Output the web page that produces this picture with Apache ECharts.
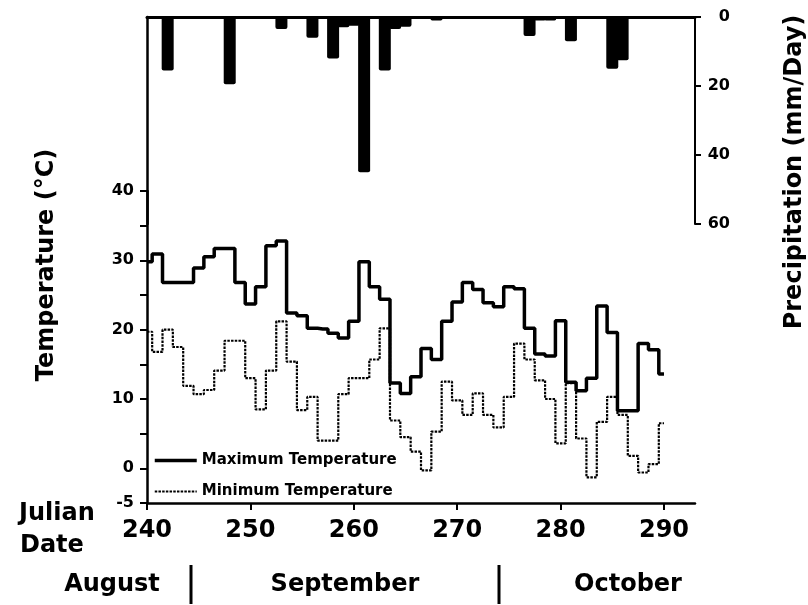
<!DOCTYPE html>
<html><head><meta charset="utf-8">
<script src="https://cdn.jsdelivr.net/npm/echarts@6/dist/echarts.min.js"></script>
<style>html,body{margin:0;padding:0;background:#fff}#c{width:808px;height:605px}</style>
</head><body><div id="c"></div>
<script>
const days = [240,241,242,243,244,245,246,247,248,249,250,251,252,253,254,255,256,257,258,259,260,261,262,263,264,265,266,267,268,269,270,271,272,273,274,275,276,277,278,279,280,281,282,283,284,285,286,287,288,289,290];
const maxTemp = [29.8,30.9,26.8,26.8,26.8,28.9,30.5,31.7,31.7,26.8,23.7,26.2,32.1,32.8,22.4,22.0,20.2,20.1,19.5,18.8,21.2,29.8,26.2,24.4,12.3,10.8,13.2,17.3,15.7,21.2,24.0,26.8,25.8,23.9,23.3,26.2,25.9,20.2,16.5,16.2,21.3,12.4,11.2,13.0,23.4,19.6,8.3,8.3,18.0,17.1,13.6];
const minTemp = [19.7,16.8,20.0,17.5,11.9,10.7,11.3,14.1,18.4,18.4,13.0,8.5,14.1,21.2,15.4,8.4,10.3,4.0,4.0,10.7,13.0,13.0,15.7,20.2,6.9,4.5,2.4,-0.3,5.3,12.5,9.8,7.7,10.8,7.7,5.9,10.3,18.0,15.7,12.7,10.0,3.6,12.3,4.3,-1.3,6.7,10.3,7.7,1.8,-0.6,0.6,6.5];
const precipDays = [242,248,253,256,258,259,260,261,263,264,265,268,277,278,279,281,285,286];
const precipValues = [15.5,19.5,3.5,6,12,3,2.5,45,15.5,3.5,2.8,1,5.5,1,1,7,15,12.5];
const dayTicks = [240,250,260,270,280,290];
const tempTicks = [-5,0,10,20,30,40];
const precipTicks = [0,20,40,60];
const seriesNames = ['Maximum Temperature','Minimum Temperature'];
const monthNames = ['August','September','October'];

const F = 'DejaVu Sans';
const lab = {fontFamily:F, fontWeight:'bold', color:'#000'};
const chart = echarts.init(document.getElementById('c'), null, {renderer:'canvas'});
const txt = (text, x, y, size, align, rot) => ({
  type:'text', x:x, y:y, rotation:rot||0,
  style:{text:text, font:'bold '+size+'px "'+F+'"', fill:'#000',
         align:align, textAlign:align, verticalAlign:'middle', textVerticalAlign:'middle'}
});
const vline = (x) => ({type:'line', shape:{x1:x, y1:565, x2:x, y2:604}, style:{stroke:'#000', lineWidth:3}});

chart.setOption({
  animation:false,
  backgroundColor:'#fff',
  grid:[
    {left:147, right:113, top:17, height:207},
    {left:147, right:113, top:191, height:312}
  ],
  xAxis:[
    {gridIndex:0, type:'value', min:240, max:293, position:'top',
     axisLine:{show:true, onZero:false, lineStyle:{color:'#000', width:3}},
     axisTick:{show:false}, axisLabel:{show:false}, splitLine:{show:false}},
    {gridIndex:1, type:'value', min:240, max:293, interval:10, position:'bottom',
     axisLine:{show:true, onZero:false, lineStyle:{color:'#000', width:2.5}},
     axisTick:{show:true, customValues:dayTicks, length:7, lineStyle:{color:'#000', width:2}},
     axisLabel:Object.assign({customValues:dayTicks, fontSize:24, margin:16}, lab),
     splitLine:{show:false}}
  ],
  yAxis:[
    {gridIndex:0, type:'value', min:0, max:60, interval:20, inverse:true, position:'right',
     axisLine:{show:true, onZero:false, lineStyle:{color:'#000', width:2}},
     axisTick:{show:true, customValues:precipTicks, length:6, lineStyle:{color:'#000', width:2}},
     axisLabel:Object.assign({customValues:precipTicks, fontSize:16, align:'right', margin:35}, lab),
     splitLine:{show:false}},
    {gridIndex:0, type:'value', min:0, max:60, inverse:true, position:'left',
     axisLine:{show:true, onZero:false, lineStyle:{color:'#000', width:2.5}},
     axisTick:{show:false}, axisLabel:{show:false}, splitLine:{show:false}},
    {gridIndex:1, type:'value', min:-5, max:40, interval:5, position:'left',
     axisLine:{show:true, onZero:false, lineStyle:{color:'#000', width:2.5}},
     axisTick:{show:true, length:7, lineStyle:{color:'#000', width:2}},
     axisLabel:Object.assign({customValues:tempTicks, fontSize:16, margin:13}, lab),
     splitLine:{show:false}}
  ],
  legend:{
    orient:'vertical', left:153, top:453, padding:0, itemWidth:42, itemHeight:14, itemGap:16,
    data:seriesNames,
    lineStyle:{width:'inherit', type:'inherit', color:'inherit'},
    itemStyle:{color:'rgba(0,0,0,0)', borderWidth:0, borderColor:'rgba(0,0,0,0)'},
    textStyle:Object.assign({fontSize:15}, lab)
  },
  series:[
    {type:'bar', xAxisIndex:0, yAxisIndex:0, barWidth:12,
     data:precipDays.map((d,i)=>[d, precipValues[i]]),
     itemStyle:{color:'#000', borderRadius:2}},
    {name:seriesNames[0], type:'line', xAxisIndex:1, yAxisIndex:2, step:'middle', symbol:'none',
     data:days.map((d,i)=>[d, maxTemp[i]]),
     lineStyle:{color:'#000', width:3.5}, itemStyle:{color:'#000'}},
    {name:seriesNames[1], type:'line', xAxisIndex:1, yAxisIndex:2, step:'middle', symbol:'none',
     data:days.map((d,i)=>[d, minTemp[i]]),
     lineStyle:{color:'#000', width:2.2, type:[2.5,1.2]}, itemStyle:{color:'#000'}}
  ],
  graphic:[
    txt('Temperature (°C)', 47, 265, 24, 'center', Math.PI/2),
    txt('Precipitation (mm/Day)', 795, 172, 24, 'center', Math.PI/2),
    txt('Julian', 19, 514, 24, 'left'),
    txt('Date', 20, 546, 24, 'left'),
    txt(monthNames[0], 112, 585, 24, 'center'),
    txt(monthNames[1], 345, 585, 24, 'center'),
    txt(monthNames[2], 628, 585, 24, 'center'),
    vline(191), vline(499)
  ]
});
</script></body></html>
